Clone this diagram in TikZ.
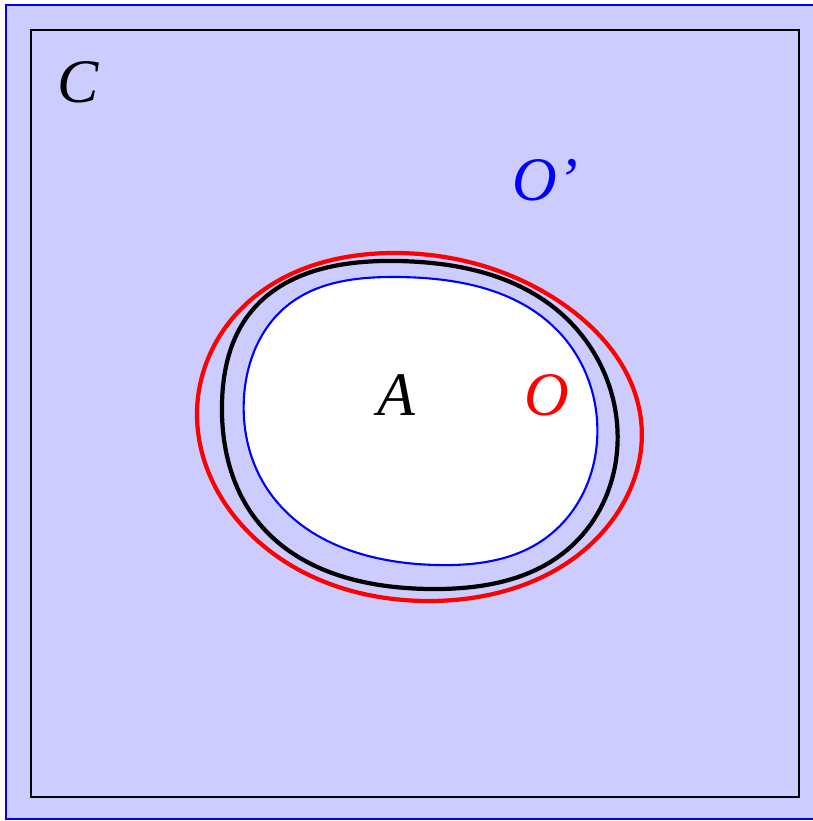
\documentclass[tikz,border=0pt]{standalone}
\usepackage{fontspec}
\setmainfont{Liberation Serif}
\usepackage{xcolor}
\usepackage{tikz}
\usetikzlibrary{hobby}
\definecolor{lav}{RGB}{204,204,255}

\begin{document}
\begin{tikzpicture}[x=0.025cm,y=-0.025cm,
  lbl/.style={font=\fontsize{44}{50}\selectfont\itshape, inner sep=0pt}]
\useasboundingbox (0,0) rectangle (812,821);
\draw[blue, line width=1.5pt, fill=lav] (6,5) rectangle (830,819);
\draw[black, line width=1.9pt] (31,30) rectangle (799,797);
% the set A and the open sets round it
\draw[red, line width=3pt, use Hobby shortcut, closed=true]
  (397,253) .. (557,300) .. (641,420) .. (607,527) .. (430,601)
  .. (260,543) .. (197,413) .. (240,310);
\draw[black, line width=3pt, use Hobby shortcut, closed=true]
  (397,261) .. (557,310) .. (617,423) .. (567,550) .. (430,589)
  .. (258,522) .. (222,403) .. (250,313);
\draw[blue, line width=1.5pt, fill=white, use Hobby shortcut, closed=true]
  (397,277) .. (557,330) .. (597,420) .. (543,540) .. (437,565)
  .. (270,493) .. (244,397) .. (288,305);
\node[lbl] (c) at (78,82) {C};
\node[lbl, blue] (obar) at (545,180) {O’};
\node[lbl] (a) at (396,395) {A};
\node[lbl, red] (o) at (547,395) {O};
\end{tikzpicture}
\end{document}
